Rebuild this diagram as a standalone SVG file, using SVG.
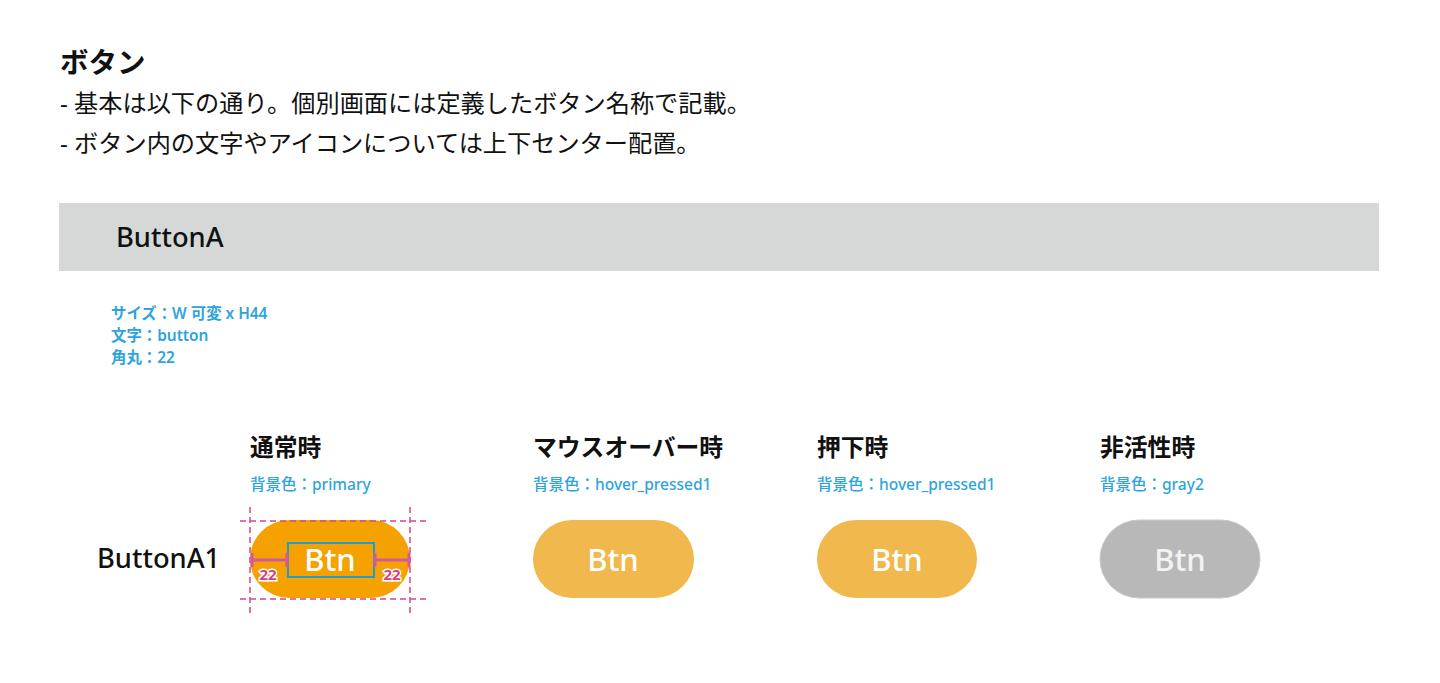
<svg xmlns="http://www.w3.org/2000/svg" width="1440" height="683" viewBox="0 0 1440 683">
<style>
text{font-family:"Noto Sans","Noto Sans CJK JP",sans-serif;}
.h{font-weight:700;fill:#111;}
.body{font-size:24.2px;fill:#111;}
.note{font-size:15.4px;font-weight:600;fill:#2ea3e0;}
.state{font-size:23.8px;font-weight:700;fill:#111;}
.bg{font-size:15.5px;font-weight:500;fill:#2ea3e0;}
.btn{font-size:31px;font-weight:500;fill:#fff;text-anchor:middle;}
.lbl{font-size:27.3px;font-weight:500;fill:#111;}
.guide{stroke:#d9468f;stroke-width:1.5;stroke-dasharray:6 4;fill:none;}
.meas{stroke:#d25a9c;stroke-width:3;fill:none;}
.num{font-size:15px;font-weight:700;fill:#d2408c;stroke:#fff;stroke-width:3;paint-order:stroke;text-anchor:middle;}
</style>
<rect width="1440" height="683" fill="#fff"/>
<g id="header">
<text x="60" y="73" class="h" font-size="28.5">ボタン</text>
<text x="60" y="112" class="body">- 基本は以下の通り。個別画面には定義したボタン名称で記載。</text>
<text x="60" y="152" class="body">- ボタン内の文字やアイコンについては上下センター配置。</text>
</g>
<g id="section-bar">
<rect x="59" y="203" width="1320" height="68" fill="#d6d8d8"/>
<text x="116" y="247" class="lbl">ButtonA</text>
</g>
<g id="spec">
<text x="111" y="319" class="note">サイズ：W 可変 x H44</text>
<text x="111" y="341" class="note">文字：button</text>
<text x="111" y="363" class="note">角丸：22</text>
</g>
<g id="row-label">
<text x="97" y="568" class="lbl">ButtonA1</text>
</g>
<g id="state-normal">
<text x="250" y="456" class="state">通常時</text>
<text x="250" y="490" class="bg">背景色：primary</text>
<rect x="250" y="520" width="160" height="78" rx="39" fill="#f5a100"/>
<text x="330" y="571" class="btn">Btn</text>
</g>
<g id="state-hover">
<text x="533" y="456" class="state">マウスオーバー時</text>
<text x="533" y="490" class="bg">背景色：hover_pressed1</text>
<rect x="533" y="520" width="161" height="78" rx="39" fill="#f0b84d"/>
<text x="613" y="571" class="btn">Btn</text>
</g>
<g id="state-pressed">
<text x="817" y="456" class="state">押下時</text>
<text x="817" y="490" class="bg">背景色：hover_pressed1</text>
<rect x="817" y="520" width="160" height="78" rx="39" fill="#f0b84d"/>
<text x="897" y="571" class="btn">Btn</text>
</g>
<g id="state-disabled">
<text x="1100" y="456" class="state">非活性時</text>
<text x="1100" y="490" class="bg">背景色：gray2</text>
<rect x="1100" y="520" width="160" height="78" rx="39" fill="#b8b8b8" stroke="#c8c8c8" stroke-width="1"/>
<text x="1180" y="571" class="btn" style="fill:#f3f3f3">Btn</text>
</g>
<g id="annotations">
<line x1="240" y1="521" x2="426" y2="521" class="guide"/>
<line x1="240" y1="599" x2="426" y2="599" class="guide"/>
<line x1="250" y1="507" x2="250" y2="614" class="guide"/>
<line x1="410" y1="507" x2="410" y2="614" class="guide"/>
<rect x="288" y="543" width="86" height="34" fill="none" stroke="#1c9fd0" stroke-width="2"/>
<path class="meas" d="M252 560H287M252 553V567M287 553V567"/>
<path class="meas" d="M375 560H409M375 553V567M409 553V567"/>
<text x="268" y="580" class="num">22</text>
<text x="392" y="580" class="num">22</text>
</g>
</svg>
